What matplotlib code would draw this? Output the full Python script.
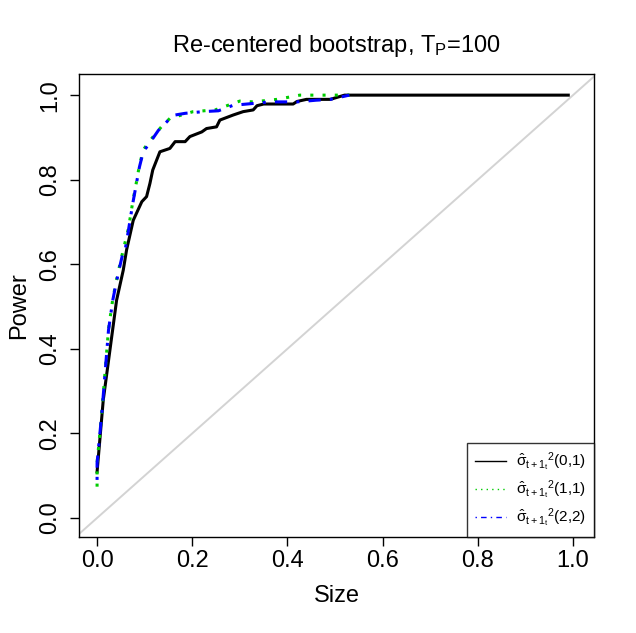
import matplotlib

matplotlib.use("Agg")
import matplotlib.pyplot as plt

# curve (0,1): black solid
size_01 = [0.0, 0.013, 0.027, 0.041, 0.055, 0.062, 0.076, 0.094, 0.104, 0.111, 0.117,
           0.132, 0.153, 0.164, 0.185, 0.195, 0.22, 0.23, 0.251, 0.258, 0.286, 0.307,
           0.328, 0.336, 0.35, 0.412, 0.42, 0.44, 0.49, 0.52, 0.99]
power_01 = [0.109, 0.279, 0.397, 0.515, 0.586, 0.634, 0.704, 0.748, 0.760, 0.791, 0.823,
            0.866, 0.874, 0.890, 0.890, 0.902, 0.913, 0.921, 0.925, 0.941, 0.953, 0.961,
            0.965, 0.975, 0.979, 0.979, 0.985, 0.990, 0.990, 1.0, 1.0]

# curve (1,1): green dotted
size_11 = [0.0, 0.0, 0.01, 0.019, 0.024, 0.033, 0.04, 0.048, 0.055, 0.066, 0.075, 0.082,
           0.089, 0.097, 0.104, 0.118, 0.135, 0.153, 0.202, 0.248, 0.30, 0.328, 0.378,
           0.426, 0.475, 0.53]
power_11 = [0.074, 0.13, 0.25, 0.376, 0.446, 0.518, 0.558, 0.600, 0.634, 0.685, 0.748, 0.790,
            0.834, 0.870, 0.882, 0.902, 0.925, 0.945, 0.961, 0.965, 0.986, 0.984, 0.990,
            1.0, 1.0, 1.0]

# curve (2,2): blue dash-dot
size_22 = [0.0, 0.0, 0.01, 0.019, 0.024, 0.033, 0.04, 0.048, 0.055, 0.059, 0.066, 0.075,
           0.082, 0.089, 0.097, 0.115, 0.129, 0.15, 0.164, 0.185, 0.223, 0.255, 0.286,
           0.325, 0.363, 0.42, 0.46, 0.49, 0.53]
power_22 = [0.09, 0.13, 0.248, 0.374, 0.444, 0.515, 0.555, 0.596, 0.63, 0.634, 0.681, 0.744,
            0.787, 0.830, 0.866, 0.894, 0.917, 0.941, 0.953, 0.957, 0.961, 0.963, 0.976,
            0.980, 0.984, 0.984, 0.988, 0.990, 1.0]

labels = [r"$\hat{\sigma}_{t+1_t}{}^{2}(0{,}1)$",
          r"$\hat{\sigma}_{t+1_t}{}^{2}(1{,}1)$",
          r"$\hat{\sigma}_{t+1_t}{}^{2}(2{,}2)$"]
ticks = [0.0, 0.2, 0.4, 0.6, 0.8, 1.0]

plt.rcParams["font.family"] = ["Liberation Sans", "DejaVu Sans"]
plt.rcParams["mathtext.fontset"] = "custom"
plt.rcParams["mathtext.rm"] = "Liberation Sans"
plt.rcParams["mathtext.it"] = "Liberation Sans"

fig = plt.figure(figsize=(6.36, 6.33), dpi=100)
ax = fig.add_axes([0.1242, 0.1517, 0.8097, 0.7314])

ax.axline((0, 0), (1, 1), color="#D3D3D3", lw=1.4, zorder=1)
ax.plot(size_01, power_01, color="black", lw=2.2, label=labels[0], zorder=3)
ax.plot(size_11, power_11, color="#00CD00", lw=2.2, ls=(0, (1, 3)), label=labels[1], zorder=4)
ax.plot(size_22, power_22, color="blue", lw=2.2, ls=(0, (1, 3, 4, 3)), label=labels[2], zorder=5)

ax.set_xlim(-0.038, 1.044)
ax.set_ylim(-0.045, 1.05)
ax.set_xticks(ticks)
ax.set_yticks(ticks)
ax.set_xticklabels([f"{t:.1f}" for t in ticks])
ax.set_yticklabels([f"{t:.1f}" for t in ticks], rotation=90, va="center")
ax.tick_params(length=6.2, width=1, labelsize=17, direction="out")
ax.tick_params(axis="x", pad=3.3)
ax.tick_params(axis="y", pad=6.5)
for spine in ax.spines.values():
    spine.set_linewidth(1.0)

ax.set_xlabel("Size", fontsize=17, labelpad=9)
ax.set_ylabel("Power", fontsize=17, labelpad=7)
ax.set_title(r"Re-centered bootstrap, T$_\mathrm{P}$=100", fontsize=17, pad=16)

leg = ax.legend(loc="lower right", fontsize=11, frameon=True, fancybox=False,
                borderaxespad=0, handlelength=2.0, handletextpad=0.7,
                labelspacing=0.35, borderpad=0.5)
leg.get_frame().set_edgecolor("black")
leg.get_frame().set_linewidth(1.0)
for line in leg.get_lines():
    line.set_linewidth(1.0)

fig.savefig("out.png", dpi=100)
